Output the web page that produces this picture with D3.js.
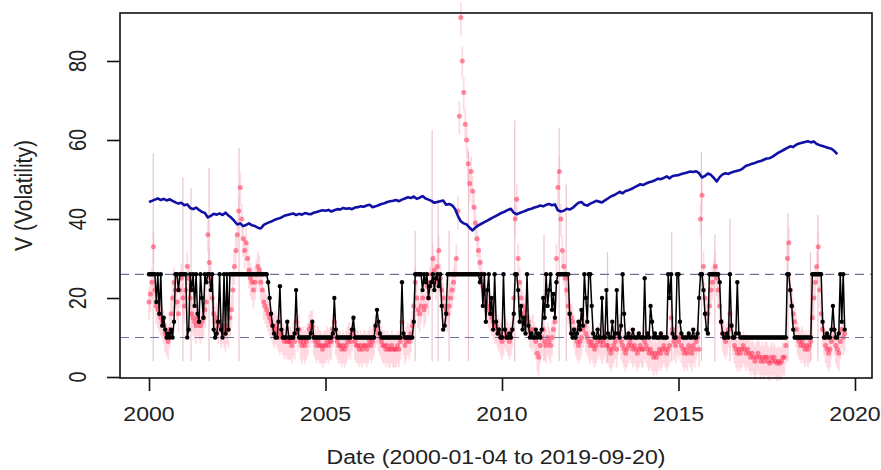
<!DOCTYPE html>
<html>
<head>
<meta charset="utf-8">
<script src="https://cdn.jsdelivr.net/npm/d3@7"></script>
<style>
  body { margin: 0; background: #fff; }
  text { font-family: "Liberation Sans", Arial, sans-serif; fill: #222; }
</style>
</head>
<body>
<div id="chart"></div>
<script>
// tick labels
const xTicks = [2000, 2005, 2010, 2015, 2020];
const yTicks = [0, 20, 40, 60, 80];
const bands = [26, 10];

// red series, two samples per month from 2000-01
const redStart = 2000, redStep = 1 / 24;
const redVals = [
  19, 21, 24, 33, 22, 18, 17, 16, 15, 14, 13, 11, 10, 9, 12, 16, 20, 24, 22, 19, 16, 22, 25, 20,
  18, 22, 28, 25, 20, 16, 15, 14, 13, 15, 14, 13, 14, 15, 17, 19, 36, 29, 25, 20, 16, 14, 15, 13,
  14, 12, 13, 12, 11, 13, 12, 15, 17, 22, 28, 32, 36, 42, 48, 40, 35, 32, 34, 30, 27, 25, 24, 22,
  24, 26, 28, 27, 24, 22, 19, 18, 17, 16, 15, 14, 13, 12, 13, 12, 11, 10, 11, 10, 9, 10, 9, 9,
  9, 8, 10, 9, 14, 11, 12, 9, 8, 9, 8, 9, 10, 12, 13, 13, 10, 9, 8, 9, 8, 8, 7, 8,
  8, 9, 8, 9, 9, 12, 14, 10, 9, 8, 8, 7, 8, 7, 8, 9, 10, 9, 11, 12, 9, 8, 8, 7,
  8, 7, 8, 8, 7, 8, 9, 8, 9, 10, 12, 13, 11, 10, 9, 8, 8, 7, 8, 7, 7, 8, 7, 7,
  7, 8, 7, 9, 14, 10, 8, 9, 10, 9, 11, 13, 18, 24, 20, 17, 16, 18, 20, 17, 18, 23, 20, 24,
  26, 30, 27, 24, 28, 32, 25, 22, 20, 18, 17, 16, 18, 20, 22, 24, 26, 30, 42, 66, 91, 80, 72, 64,
  60, 54, 49, 52, 47, 43, 39, 35, 32, 29, 26, 23, 21, 19, 18, 17, 16, 15, 14, 13, 13, 12, 11, 10,
  9, 10, 12, 11, 10, 9, 10, 12, 20, 40, 45, 30, 24, 20, 18, 16, 17, 15, 14, 12, 11, 12, 10, 9,
  6, 5, 8, 10, 12, 9, 8, 10, 9, 8, 10, 12, 14, 30, 48, 52, 40, 32, 28, 25, 22, 18, 16, 15,
  14, 12, 10, 9, 8, 9, 10, 12, 13, 11, 10, 9, 8, 9, 8, 7, 8, 9, 10, 9, 8, 9, 10, 8,
  8, 7, 6, 7, 8, 9, 7, 10, 12, 9, 8, 7, 6, 7, 8, 9, 8, 7, 8, 7, 6, 7, 8, 7,
  7, 9, 8, 7, 6, 7, 6, 5, 6, 5, 6, 7, 6, 7, 8, 7, 6, 7, 8, 15, 12, 9, 8, 10,
  9, 10, 8, 7, 6, 7, 6, 8, 7, 6, 8, 7, 9, 10, 7, 40, 46, 28, 20, 16, 16, 18, 22, 24,
  26, 28, 25, 22, 18, 14, 11, 10, 9, 10, 12, 16, 13, 10, 8, 7, 6, 7, 6, 7, 8, 7, 6, 7,
  6, 5, 6, 5, 4, 5, 6, 5, 4, 5, 4, 5, 5, 4, 3.5, 5, 4, 5, 4, 3.5, 4, 3.5, 4, 5,
  5, 8, 30, 34, 22, 18, 16, 14, 12, 10, 9, 8, 9, 8, 7, 8, 7, 8, 9, 15, 20, 24, 28, 33,
  22, 16, 12, 10, 8, 7, 6, 7, 9, 12, 10, 8, 7, 6, 9, 12, 10, 11
];

// black regime series, same dates as red
const blackVals = [
  26, 26, 26, 26, 26, 19, 26, 16, 26, 13, 15, 12, 10, 11, 10, 12, 10, 14, 26, 26, 22, 26, 26, 26,
  26, 26, 10, 12, 26, 22, 26, 18, 26, 16, 14, 26, 20, 15, 26, 24, 26, 26, 22, 26, 12, 10, 11, 14,
  26, 12, 10, 26, 11, 26, 12, 26, 26, 26, 26, 26, 26, 26, 26, 26, 26, 26, 26, 26, 26, 26, 26, 26,
  26, 26, 26, 26, 26, 26, 26, 26, 26, 24, 20, 16, 13, 11, 10, 10, 14, 23, 12, 10, 10, 10, 14, 10,
  10, 10, 10, 11, 22, 12, 10, 10, 10, 10, 10, 10, 10, 10, 11, 14, 10, 10, 10, 10, 10, 10, 10, 10,
  10, 10, 10, 10, 10, 11, 20, 12, 10, 10, 10, 10, 10, 10, 10, 10, 10, 10, 12, 15, 10, 10, 10, 10,
  10, 10, 10, 10, 10, 10, 10, 10, 10, 10, 13, 17, 14, 11, 10, 10, 10, 10, 10, 10, 10, 10, 10, 10,
  10, 10, 10, 10, 24, 11, 10, 10, 10, 10, 10, 10, 14, 26, 26, 26, 26, 26, 22, 26, 24, 26, 20, 23,
  24, 26, 22, 25, 26, 23, 26, 18, 12, 13, 16, 26, 26, 26, 26, 26, 26, 26, 26, 26, 26, 26, 26, 26,
  26, 26, 26, 26, 26, 26, 26, 26, 26, 24, 26, 18, 26, 14, 22, 26, 16, 20, 12, 26, 14, 11, 12, 10,
  10, 26, 12, 10, 10, 11, 10, 12, 16, 26, 26, 22, 14, 18, 12, 15, 11, 26, 13, 10, 11, 10, 10, 12,
  10, 11, 10, 12, 20, 15, 26, 18, 22, 26, 17, 21, 15, 24, 26, 26, 26, 26, 26, 26, 26, 26, 16, 11,
  10, 12, 10, 11, 14, 12, 17, 13, 26, 20, 14, 26, 26, 18, 11, 10, 10, 12, 10, 10, 20, 10, 10, 22,
  11, 10, 10, 14, 10, 11, 22, 11, 10, 13, 26, 16, 10, 10, 11, 10, 10, 12, 10, 10, 10, 11, 10, 10,
  10, 25, 10, 11, 10, 18, 14, 10, 11, 10, 10, 10, 11, 10, 10, 10, 10, 26, 20, 26, 11, 10, 10, 26,
  26, 14, 11, 10, 10, 10, 10, 11, 10, 10, 12, 10, 10, 11, 20, 26, 26, 22, 16, 12, 11, 26, 26, 26,
  26, 26, 26, 26, 24, 14, 11, 10, 10, 11, 10, 26, 13, 10, 10, 11, 24, 11, 10, 10, 10, 10, 10, 10,
  10, 10, 10, 10, 10, 10, 10, 10, 10, 10, 10, 10, 10, 10, 10, 10, 10, 10, 10, 10, 10, 10, 10, 10,
  10, 10, 26, 26, 22, 18, 12, 10, 10, 10, 10, 10, 10, 10, 10, 10, 10, 10, 10, 26, 26, 26, 26, 26,
  26, 26, 14, 10, 10, 11, 10, 10, 12, 18, 12, 10, 10, 11, 26, 14, 26, 12
];

// blue series, monthly from 2000-01
const blueStart = 2000, blueStep = 1 / 12;
const blueVals = [
  44.3, 44.6, 44.9, 45.2, 44.8, 45.1, 44.7, 45.0, 44.6, 44.2, 43.9, 44.1,
  43.5, 43.7, 42.8, 42.5, 42.9, 42.3, 41.8, 41.5, 40.4, 40.8, 41.3, 41.1,
  41.4, 41.0, 41.6, 40.9, 40.3, 39.5, 38.6, 38.9, 38.2, 38.5, 38.9, 38.4,
  38.2, 37.8, 37.6, 38.5, 38.9, 39.2, 39.5, 39.9, 40.1, 40.4, 40.8, 41.0,
  41.2, 41.4, 41.0, 41.3, 41.1, 41.5, 41.3, 41.2, 41.6, 41.8, 42.0, 42.2,
  42.1, 42.3, 41.9, 42.2, 42.5, 42.4, 42.8, 42.6, 42.7, 42.5, 42.9, 43.0,
  43.2, 43.1, 43.4, 43.6, 43.0, 43.2, 43.5, 43.8, 44.0, 44.3, 44.5, 44.6,
  44.8, 44.5, 44.9, 45.2, 45.5, 45.3, 45.7, 45.1, 45.4, 45.8, 45.2, 44.9,
  44.6, 44.1, 44.3, 44.5, 44.7, 43.6, 43.8, 43.5, 42.6, 40.8, 39.4, 38.9,
  38.6, 37.8, 37.1, 37.9, 38.4, 38.8, 39.2, 39.6, 40.0, 40.4, 40.8, 41.2,
  41.6, 41.9, 42.3, 42.6, 41.6, 41.2, 41.5, 41.8, 42.1, 42.4, 42.6, 42.9,
  43.1, 43.4, 43.2, 43.6, 43.8, 43.5, 43.7, 42.2, 41.9, 42.1, 42.6, 42.4,
  42.8, 43.5, 44.1, 44.3, 43.6, 43.4, 43.9, 44.2, 44.6, 44.4, 44.2, 44.7,
  45.2, 45.7, 46.0, 46.4, 46.9, 46.5, 47.1, 47.3, 47.6, 48.0, 48.4, 48.8,
  48.6, 49.0, 49.3, 49.5, 49.8, 50.2, 50.1, 50.4, 50.8, 50.3, 50.9, 51.0,
  51.1, 51.4, 51.6, 51.8, 52.0, 51.9, 52.1, 51.6, 50.5, 50.9, 51.5, 51.2,
  50.4, 49.5, 50.6, 51.3, 51.6, 51.4, 51.8, 52.0, 52.2, 52.4, 52.9, 53.5,
  53.7, 54.0, 54.2, 54.5, 54.7, 55.0, 55.3, 55.4, 55.8, 56.3, 56.8, 57.2,
  57.6, 58.0, 58.4, 58.2, 58.8, 59.1, 59.3, 59.5, 59.7, 59.4, 59.6, 59.0,
  58.7, 58.5, 58.2, 58.0, 57.8, 57.2, 56.4
];

// faint tall interval lines [date, top]
const spikes = [
  [2000.12, 56.7], [2000.96, 50.6], [2001.19, 47.8], [2001.70, 53], [2002.55, 58],
  [2007.54, 37], [2008.02, 62.5], [2008.19, 45], [2008.50, 37], [2009.05, 57],
  [2010.36, 65], [2011.19, 36], [2011.62, 63], [2011.82, 49], [2012.99, 31.6],
  [2014.81, 36.7], [2015.65, 57], [2016.03, 36], [2016.46, 40], [2018.10, 41.5],
  [2018.95, 41], [2018.74, 31.6]
];

const width = 881, height = 470;
const box = {left: 120, right: 872, top: 13, bottom: 378};

const svg = d3.select("#chart")
    .append("svg")
    .attr("width", width)
    .attr("height", height);

const x = d3.scaleLinear()
    .domain([1999.178, 2020.482])
    .range([box.left, box.right]);
const y = d3.scaleLinear()
    .domain([-0.25, 92.15])
    .range([box.bottom, box.top]);

const red = redVals.map((v, i) => ({t: redStart + i * redStep, v: v}));
const black = blackVals.map((v, i) => ({t: redStart + i * redStep, v: v}));
const blue = blueVals.map((v, i) => ({t: blueStart + i * blueStep, v: v}));

const plot = svg.append("g");

// tall faint intervals
plot.selectAll(".spike")
    .data(spikes)
    .join("line")
    .attr("x1", d => x(d[0])).attr("x2", d => x(d[0]))
    .attr("y1", d => y(d[1])).attr("y2", d => y(4))
    .attr("stroke", "#e9c6cf")
    .attr("stroke-width", 1.2);

// pink haze around red points
plot.selectAll(".bar")
    .data(red)
    .join("line")
    .attr("x1", d => x(d.t)).attr("x2", d => x(d.t))
    .attr("y1", d => y(d.v) - 15).attr("y2", d => y(d.v) + 18)
    .attr("stroke", "#ffa8bb")
    .attr("stroke-opacity", 0.4)
    .attr("stroke-width", 1.8);

plot.selectAll(".red")
    .data(red)
    .join("circle")
    .attr("cx", d => x(d.t))
    .attr("cy", d => y(d.v))
    .attr("r", 2.5)
    .attr("fill", "#ff3052")
    .attr("fill-opacity", 0.55);

// dashed reference levels
plot.selectAll(".band")
    .data(bands)
    .join("line")
    .attr("x1", box.left).attr("x2", box.right)
    .attr("y1", d => y(d)).attr("y2", d => y(d))
    .attr("stroke", "#6f6f9a")
    .attr("stroke-width", 1.2)
    .attr("stroke-dasharray", "9,6");

// black regime line and points
plot.append("path")
    .datum(black)
    .attr("fill", "none")
    .attr("stroke", "#000")
    .attr("stroke-width", 1.5)
    .attr("d", d3.line().x(d => x(d.t)).y(d => y(d.v)));

plot.selectAll(".blk")
    .data(black)
    .join("circle")
    .attr("cx", d => x(d.t))
    .attr("cy", d => y(d.v))
    .attr("r", 2.2)
    .attr("fill", "#000");

// blue line
plot.append("path")
    .datum(blue)
    .attr("fill", "none")
    .attr("stroke", "#1010a6")
    .attr("stroke-width", 2.6)
    .attr("stroke-linejoin", "round")
    .attr("d", d3.line().x(d => x(d.t)).y(d => y(d.v)));

// box
svg.append("rect")
    .attr("x", box.left).attr("y", box.top)
    .attr("width", box.right - box.left)
    .attr("height", box.bottom - box.top)
    .attr("fill", "none")
    .attr("stroke", "#111")
    .attr("stroke-width", 1.6);

// axes
const xAxis = svg.append("g")
    .attr("transform", `translate(0,${box.bottom})`)
    .call(d3.axisBottom(x).tickValues(xTicks).tickSize(13).tickSizeOuter(0).tickFormat(""));
const yAxis = svg.append("g")
    .attr("transform", `translate(${box.left},0)`)
    .call(d3.axisLeft(y).tickValues(yTicks).tickSize(13).tickSizeOuter(0).tickFormat(""));
[xAxis, yAxis].forEach(a => {
    a.select(".domain").remove();
    a.selectAll("line").attr("stroke", "#111").attr("stroke-width", 1.6);
});

svg.selectAll(".xlab")
    .data(xTicks)
    .join("text")
    .attr("transform", d => `translate(${x(d)},421) scale(1.1,1)`)
    .attr("text-anchor", "middle")
    .attr("font-size", 21)
    .text(d => d);

svg.selectAll(".ylab")
    .data(yTicks)
    .join("text")
    .attr("transform", d => `translate(78,${y(d)}) scale(1.15,1) rotate(-90)`)
    .attr("text-anchor", "middle")
    .attr("dy", "0.35em")
    .attr("font-size", 20)
    .text(d => d);

svg.append("text")
    .attr("transform", `translate(${(box.left + box.right) / 2},464) scale(1.1,1)`)
    .attr("text-anchor", "middle")
    .attr("font-size", 21)
    .text("Date (2000-01-04 to 2019-09-20)");

svg.append("text")
    .attr("transform", `translate(24,${(box.top + box.bottom) / 2}) scale(1.1,1) rotate(-90)`)
    .attr("text-anchor", "middle")
    .attr("dy", "0.35em")
    .attr("font-size", 21)
    .text("V (Volatility)");
</script>
</body>
</html>
